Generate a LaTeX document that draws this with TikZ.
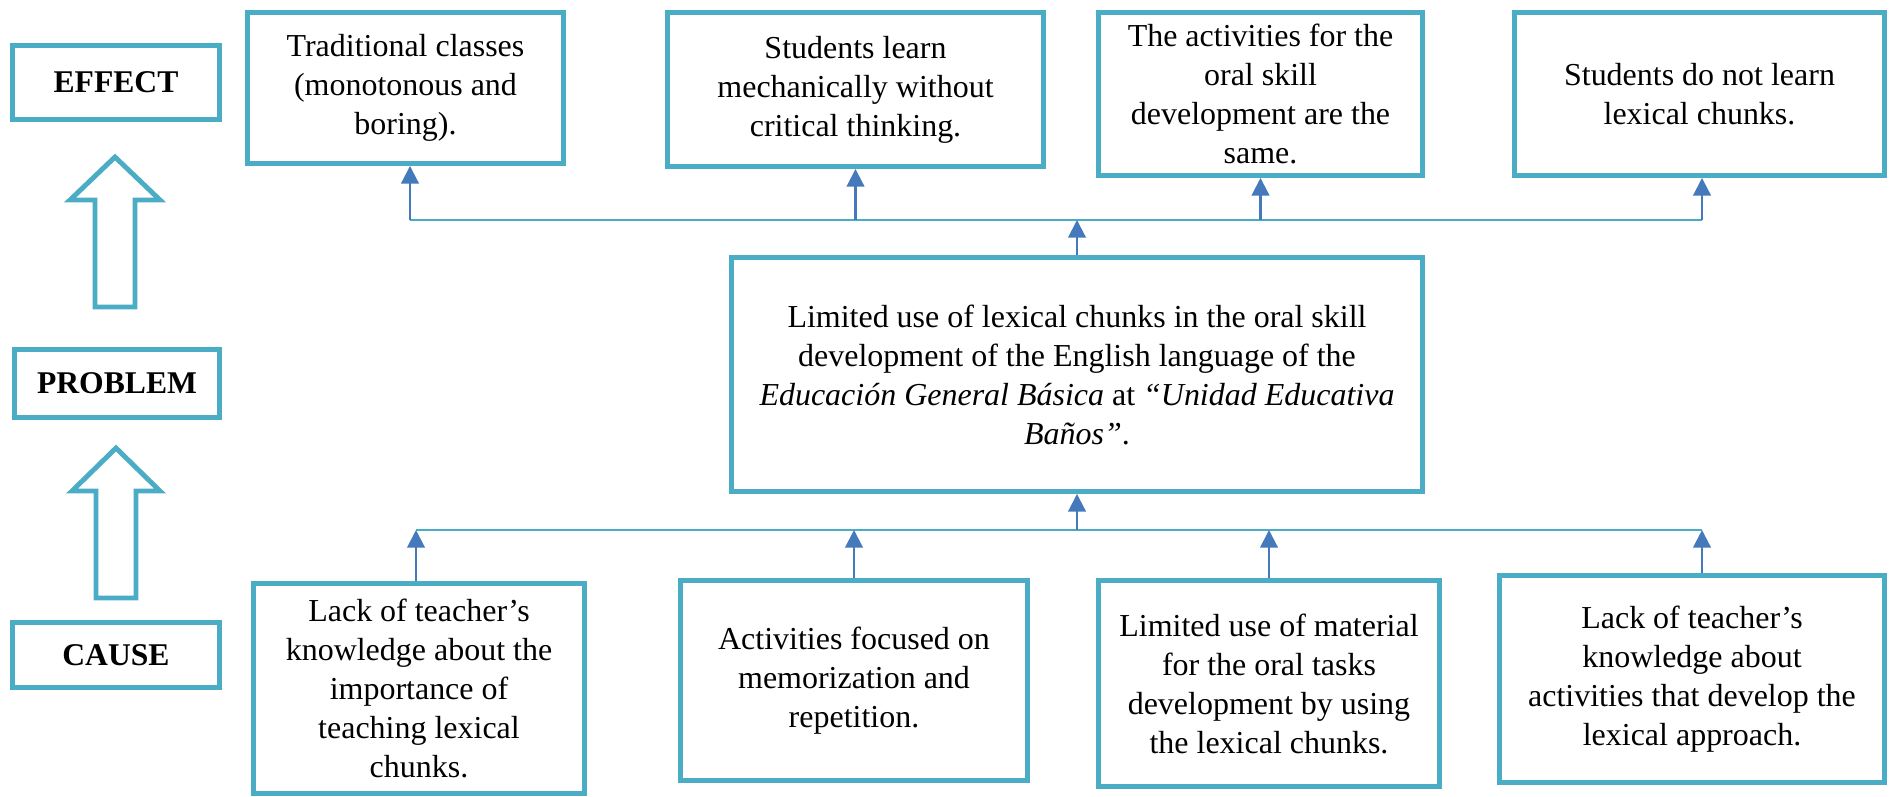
\documentclass[tikz,border=0pt]{standalone}
\usepackage{fontspec}
\setmainfont{Liberation Serif}
\usetikzlibrary{arrows.meta,positioning}

\definecolor{boxblue}{HTML}{4BACC6}
\definecolor{arrowblue}{HTML}{4479BB}
\newcommand{\pxu}{0.02cm}

\tikzset{
  cell/.style={draw=boxblue, line width=2.8pt, align=center, inner sep=0pt,
    font=\fontsize{18.2}{22.2}\selectfont},
  tag/.style={cell, font=\fontsize{18}{22}\selectfont\bfseries},
  bus/.style={draw=boxblue, line width=1.1pt},
  up/.style={draw=arrowblue, line width=1.2pt, -{Triangle[width=10pt,length=10pt]}},
  hollow/.style={draw=boxblue, line width=2.8pt, fill=white, line join=miter},
}

\begin{document}
\begin{tikzpicture}[x=\pxu, y=-\pxu]
  \useasboundingbox (0,0) rectangle (1889,796);

  % left column
  \node[tag, minimum width=207*\pxu, minimum height=74*\pxu] (effect) at (116,82.5) {EFFECT};
  \node[tag, minimum width=205*\pxu, minimum height=68*\pxu] (problem) at (117,383.5) {PROBLEM};
  \node[tag, minimum width=207*\pxu, minimum height=65*\pxu] (cause) at (116,655) {CAUSE};

  \draw[hollow] (115,157) -- (160,200) -- (135,200) -- (135,307) -- (95,307)
    -- (95,200) -- (70,200) -- cycle;
  \draw[hollow] (116,448) -- (160,491) -- (136,491) -- (136,598) -- (96,598)
    -- (96,491) -- (72,491) -- cycle;

  % effects
  \node[cell, minimum width=316*\pxu, minimum height=151*\pxu] (e1) at (405.5,88)
    {Traditional classes\\(monotonous and\\boring).};
  \node[cell, minimum width=376*\pxu, minimum height=154*\pxu] (e2) at (855.5,89.5)
    {Students learn\\mechanically without\\critical thinking.};
  \node[cell, minimum width=324*\pxu, minimum height=163*\pxu] (e3) at (1260.5,94)
    {The activities for the\\oral skill\\development are the\\same.};
  \node[cell, minimum width=370*\pxu, minimum height=163*\pxu] (e4) at (1699.5,94)
    {Students do not learn\\lexical chunks.};

  % problem
  \node[cell, minimum width=691*\pxu, minimum height=234*\pxu] (p) at (1077,374.5)
    {Limited use of lexical chunks in the oral skill\\
     development of the English language of the\\
     \textit{Educación General Básica} at \textit{“Unidad Educativa}\\
     \textit{Baños”}.};

  % causes
  \node[cell, minimum width=331*\pxu, minimum height=210*\pxu] (c1) at (419,688.5)
    {Lack of teacher’s\\knowledge about the\\importance of\\teaching lexical\\chunks.};
  \node[cell, minimum width=347*\pxu, minimum height=200*\pxu] (c2) at (854,680.5)
    {Activities focused on\\memorization and\\repetition.};
  \node[cell, minimum width=341*\pxu, minimum height=206*\pxu] (c3) at (1269,683.5)
    {Limited use of material\\for the oral tasks\\development by using\\the lexical chunks.};
  \node[cell, minimum width=385*\pxu, minimum height=207*\pxu] (c4) at (1692,679)
    {Lack of teacher’s\\knowledge about\\activities that develop the\\lexical approach.};

  % upper connectors
  \coordinate (tl) at (410,220);
  \coordinate (tr) at (1702,220);
  \draw[bus] (tl) -- (tr);
  \draw[up] (tl) -- (tl |- e1.south);
  \draw[up] (e2.south |- tl) -- (e2.south);
  \draw[up] (e3.south |- tl) -- (e3.south);
  \draw[up] (tr) -- (tr |- e4.south);
  \draw[up] (p.north) -- (p.north |- tl);

  % lower connectors
  \coordinate (bl) at (416,530);
  \coordinate (br) at (1702,530);
  \draw[bus] (bl) -- (br);
  \draw[up] (bl |- c1.north) -- (bl);
  \draw[up] (c2.north) -- (c2.north |- bl);
  \draw[up] (c3.north) -- (c3.north |- bl);
  \draw[up] (br |- c4.north) -- (br);
  \draw[up] (p.south |- bl) -- (p.south);
\end{tikzpicture}
\end{document}
